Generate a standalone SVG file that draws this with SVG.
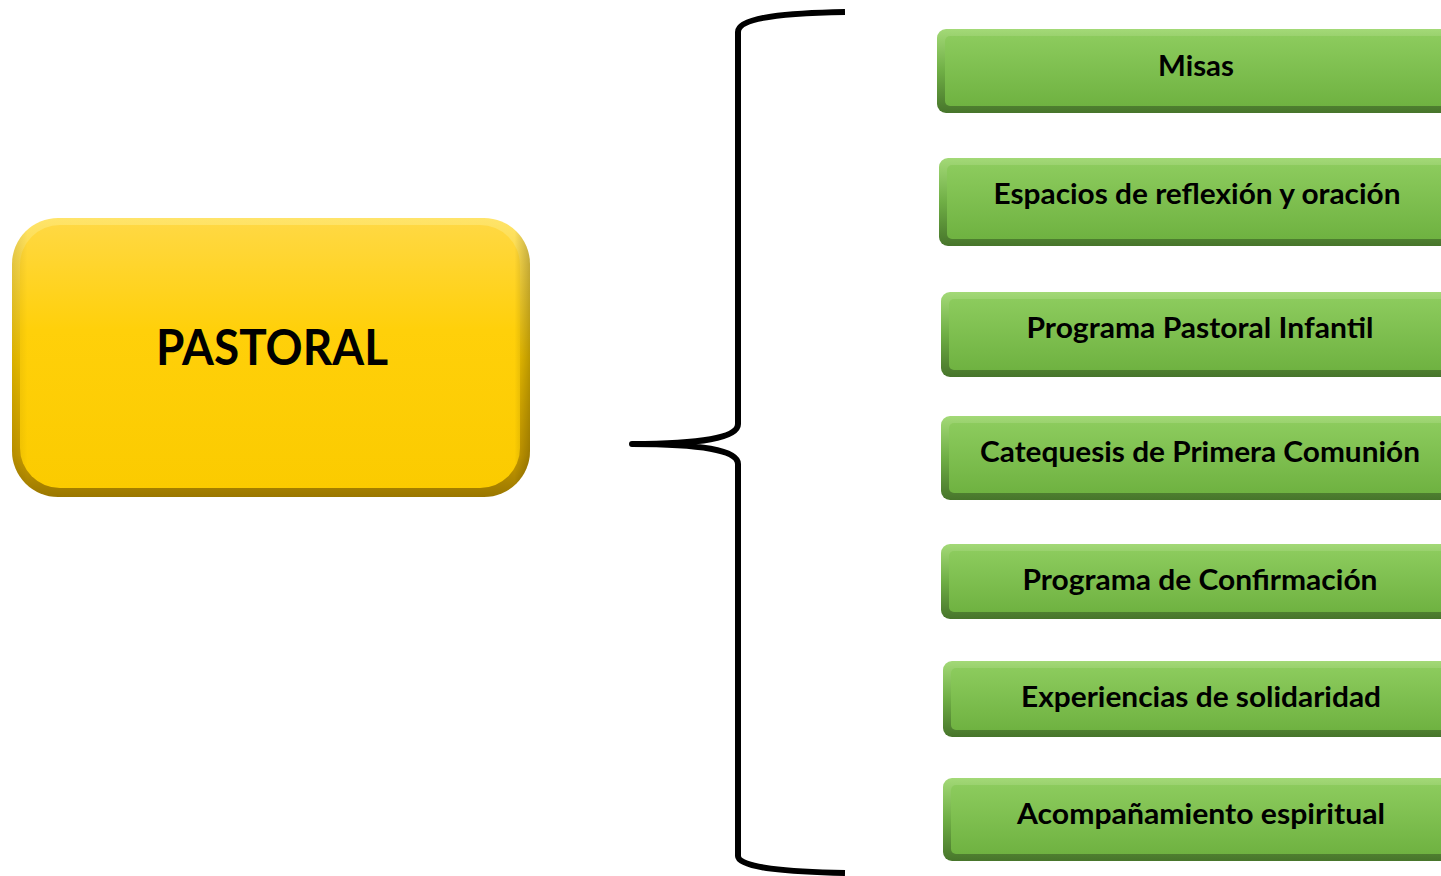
<svg xmlns="http://www.w3.org/2000/svg" width="1441" height="876" viewBox="0 0 1441 876">
<defs>
<linearGradient id="gEdge" x1="0" y1="0" x2="0" y2="1">
<stop offset="0" stop-color="#a3d977"/>
<stop offset="0.5" stop-color="#6fae45"/>
<stop offset="1" stop-color="#47752b"/>
</linearGradient>
<linearGradient id="gFace" x1="0" y1="0" x2="0" y2="1">
<stop offset="0" stop-color="#8ccb5d"/>
<stop offset="1" stop-color="#6fb241"/>
</linearGradient>
<linearGradient id="yEdge" x1="0" y1="0" x2="0" y2="1">
<stop offset="0" stop-color="#ffe46a"/>
<stop offset="0.5" stop-color="#f0c200"/>
<stop offset="0.85" stop-color="#c99c00"/>
<stop offset="1" stop-color="#9a7700"/>
</linearGradient>
<linearGradient id="yFace" x1="0" y1="0" x2="0" y2="1">
<stop offset="0" stop-color="#ffd842"/>
<stop offset="0.4" stop-color="#ffd00a"/>
<stop offset="1" stop-color="#fbcb00"/>
</linearGradient>
<linearGradient id="ySide" x1="0" y1="0" x2="1" y2="0">
<stop offset="0" stop-color="#000" stop-opacity="0.1"/>
<stop offset="0.03" stop-color="#000" stop-opacity="0"/>
<stop offset="0.97" stop-color="#000" stop-opacity="0"/>
<stop offset="1" stop-color="#000" stop-opacity="0.22"/>
</linearGradient>
</defs>
<style>
.gl{font-family:Lato,"Liberation Sans",sans-serif;font-weight:bold;font-size:28px;fill:#000;text-anchor:middle}
.yl{font-family:Lato,"Liberation Sans",sans-serif;font-weight:bold;font-size:50px;fill:#000;text-anchor:middle}
.brace{fill:none;stroke:#000;stroke-width:6;stroke-linecap:butt;stroke-linejoin:round}
</style>

<g id="pastoral">
<rect x="12" y="218" width="518" height="279" rx="46" fill="url(#yEdge)"/>
<rect x="20" y="225" width="500" height="263" rx="40" fill="url(#yFace)"/>
<rect x="12" y="218" width="518" height="279" rx="46" fill="url(#ySide)"/>
<text class="yl" x="272" y="365" textLength="232" lengthAdjust="spacingAndGlyphs">PASTORAL</text>
</g>

<g id="connectors">
<path class="brace" d="M845,12 C790,13 738,17 738,32 L738,424 C738,438 700,444 632,444 C700,444 738,450 738,464 L738,856 C738,868 790,872 845,873"/>
</g>

<g id="n1">
<rect x="937" y="29" width="520" height="84" rx="9" fill="url(#gEdge)"/>
<rect x="945" y="36" width="510" height="70" rx="5" fill="url(#gFace)"/>
<text class="gl" x="1196" y="76" textLength="76" lengthAdjust="spacingAndGlyphs">Misas</text>
</g>
<g id="n2">
<rect x="939" y="158" width="520" height="88" rx="9" fill="url(#gEdge)"/>
<rect x="947" y="165" width="510" height="74" rx="5" fill="url(#gFace)"/>
<text class="gl" x="1197" y="204" textLength="407" lengthAdjust="spacingAndGlyphs">Espacios de reflexión y oración</text>
</g>
<g id="n3">
<rect x="941" y="292" width="520" height="85" rx="9" fill="url(#gEdge)"/>
<rect x="949" y="299" width="510" height="71" rx="5" fill="url(#gFace)"/>
<text class="gl" x="1200" y="338" textLength="347" lengthAdjust="spacingAndGlyphs">Programa Pastoral Infantil</text>
</g>
<g id="n4">
<rect x="941" y="416" width="520" height="84" rx="9" fill="url(#gEdge)"/>
<rect x="949" y="423" width="510" height="70" rx="5" fill="url(#gFace)"/>
<text class="gl" x="1200" y="462" textLength="440" lengthAdjust="spacingAndGlyphs">Catequesis de Primera Comunión</text>
</g>
<g id="n5">
<rect x="941" y="544" width="520" height="75" rx="9" fill="url(#gEdge)"/>
<rect x="949" y="551" width="510" height="61" rx="5" fill="url(#gFace)"/>
<text class="gl" x="1200" y="590" textLength="355" lengthAdjust="spacingAndGlyphs">Programa de Confirmación</text>
</g>
<g id="n6">
<rect x="943" y="661" width="520" height="76" rx="9" fill="url(#gEdge)"/>
<rect x="951" y="668" width="510" height="62" rx="5" fill="url(#gFace)"/>
<text class="gl" x="1201" y="707" textLength="360" lengthAdjust="spacingAndGlyphs">Experiencias de solidaridad</text>
</g>
<g id="n7">
<rect x="943" y="778" width="520" height="83" rx="9" fill="url(#gEdge)"/>
<rect x="951" y="785" width="510" height="69" rx="5" fill="url(#gFace)"/>
<text class="gl" x="1201" y="824" textLength="368" lengthAdjust="spacingAndGlyphs">Acompañamiento espiritual</text>
</g>
</svg>
